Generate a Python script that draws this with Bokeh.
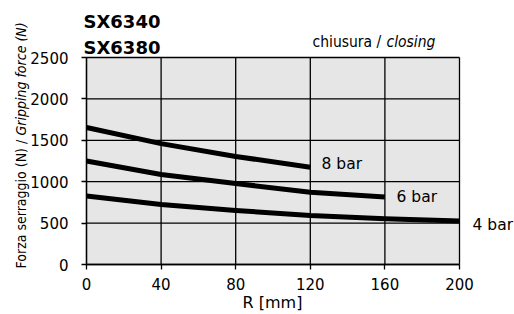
import math
from bokeh.plotting import figure
from bokeh.models import Range1d, FixedTicker, Label
from bokeh.embed import file_html
from bokeh.resources import INLINE

# data
r_8bar = [0, 40, 80, 120]
f_8bar = [1655, 1460, 1305, 1175]
r_6bar = [0, 40, 80, 120, 160]
f_6bar = [1250, 1087, 978, 873, 815]
r_4bar = [0, 40, 80, 120, 160, 200]
f_4bar = [828, 725, 652, 592, 552, 525]
x_ticks = [0, 40, 80, 120, 160, 200]
y_ticks = [0, 500, 1000, 1500, 2000, 2500]
series_labels = ["8 bar", "6 bar", "4 bar"]

NARROW = "DejaVu Sans Condensed"
MAIN = "DejaVu Sans"

W, H = 514, 314
# page px -> data (plot area: x 86..459 -> 0..200, y 264..57 -> 0..2500)
def dx(px):
    return (px - 86) * 200.0 / 373.0

def dy(py):
    return (264 - py) * 2500.0 / 207.0

p = figure(width=W, height=H, x_range=Range1d(dx(0), dx(W)), y_range=Range1d(dy(H), dy(0)),
           output_backend="svg", toolbar_location=None,
           min_border=0, min_border_left=0, min_border_right=0, min_border_top=0, min_border_bottom=0)
p.background_fill_color = "white"
p.border_fill_color = "white"
p.outline_line_color = None
p.grid.visible = False

# plot area
p.quad(left=[x_ticks[0]], right=[x_ticks[-1]], bottom=[y_ticks[0]], top=[y_ticks[-1]],
       fill_color="#e6e6e7", line_color=None)
# grid lines
p.segment(x0=x_ticks, x1=x_ticks, y0=[y_ticks[0]] * len(x_ticks), y1=[y_ticks[-1]] * len(x_ticks),
          line_color="black", line_width=1.3)
p.segment(x0=[x_ticks[0]] * len(y_ticks), x1=[x_ticks[-1]] * len(y_ticks), y0=y_ticks, y1=y_ticks,
          line_color="black", line_width=1.3)

for ax in (p.xaxis, p.yaxis):
    ax.axis_line_color = "black"
    ax.axis_line_width = 1.3
    ax.major_tick_line_color = "black"
    ax.major_tick_line_width = 1.3
    ax.major_tick_in = 0
    ax.major_tick_out = 5
    ax.minor_tick_line_color = None
    ax.major_label_text_font = MAIN
    ax.major_label_text_font_size = "15px"
    ax.major_label_text_color = "black"
p.xaxis.ticker = FixedTicker(ticks=x_ticks)
p.yaxis.ticker = FixedTicker(ticks=y_ticks)
p.xaxis.bounds = (x_ticks[0], x_ticks[-1])
p.yaxis.bounds = (y_ticks[0], y_ticks[-1])
p.xaxis.fixed_location = y_ticks[0]
p.yaxis.fixed_location = x_ticks[0]
p.xaxis.major_label_standoff = 8
p.yaxis.major_label_standoff = 13

for xs, ys in ((r_8bar, f_8bar), (r_6bar, f_6bar), (r_4bar, f_4bar)):
    p.line(xs, ys, line_color="black", line_width=5, line_cap="butt", line_join="round")

# series labels
for txt, (px, py) in zip(series_labels, [(321, 163), (396, 196), (472, 224)]):
    p.add_layout(Label(x=dx(px), y=dy(py), text=txt, text_font=MAIN, text_font_size="15.5px",
                       text_align="left", text_baseline="middle", text_color="black"))

# titles
p.add_layout(Label(x=dx(83), y=dy(21), text="SX6340", text_font=MAIN, text_font_style="bold",
                   text_font_size="18px", text_baseline="middle", text_color="black"))
p.add_layout(Label(x=dx(83), y=dy(46.5), text="SX6380", text_font=MAIN, text_font_style="bold",
                   text_font_size="18px", text_baseline="middle", text_color="black"))

# chiusura / closing
p.add_layout(Label(x=dx(312), y=dy(41), text="chiusura /", text_font=NARROW,
                   text_font_size="15.5px", text_baseline="middle", text_color="black"))
p.add_layout(Label(x=dx(386), y=dy(41), text="closing", text_font=NARROW, text_font_style="italic",
                   text_font_size="15.5px", text_baseline="middle", text_color="black"))

# y axis label
p.add_layout(Label(x=dx(20), y=dy(268), text="Forza serraggio (N) /", text_font=NARROW,
                   text_font_size="14px", angle=math.pi / 2, text_align="left",
                   text_baseline="middle", text_color="black"))
p.add_layout(Label(x=dx(20), y=dy(135), text="Gripping force (N)", text_font=NARROW,
                   text_font_style="italic", text_font_size="14px", angle=math.pi / 2,
                   text_align="left", text_baseline="middle", text_color="black"))

# x axis label
p.add_layout(Label(x=dx(272), y=dy(302), text="R [mm]", text_font=MAIN, text_font_size="16px",
                   text_align="center", text_baseline="middle", text_color="black"))

open("out.html", "w").write(file_html(p, INLINE))
